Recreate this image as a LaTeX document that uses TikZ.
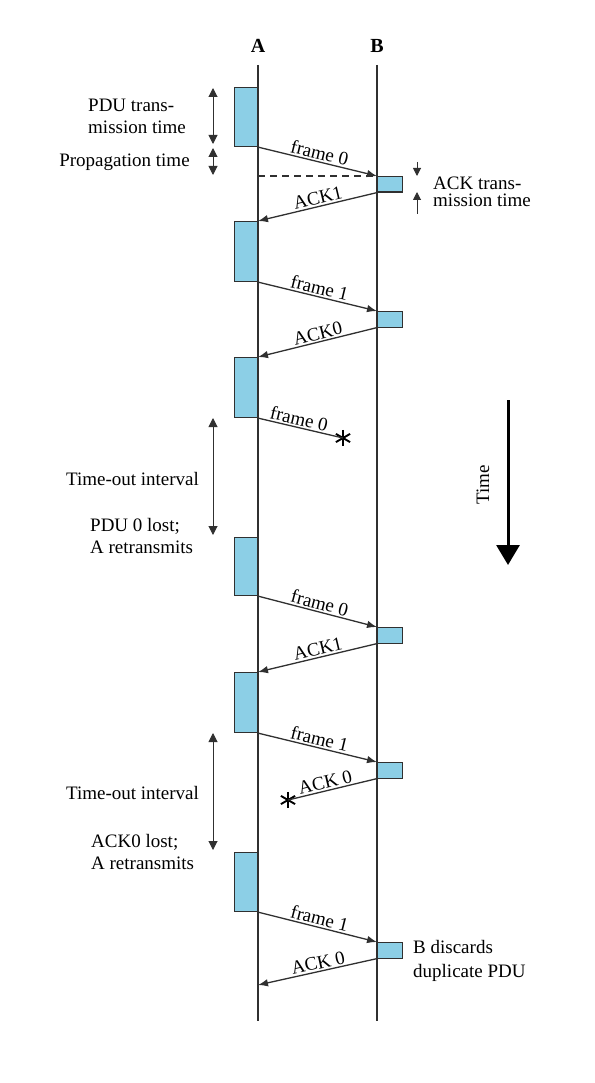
\documentclass[tikz,border=0pt]{standalone}
\usepackage{fontspec}
\setmainfont{Liberation Serif}
\usetikzlibrary{arrows.meta}
\definecolor{boxblue}{HTML}{8CCFE6}
\definecolor{linegray}{HTML}{303030}
\begin{document}
\begin{tikzpicture}[x=1pt,y=-1pt,
  font=\fontsize{19}{22}\selectfont,
  lifeline/.style={draw=linegray, line width=1.4pt},
  abox/.style={draw=linegray, fill=boxblue, line width=1.1pt, minimum width=23pt, inner sep=0pt, anchor=north east},
  bbox/.style={draw=linegray, fill=boxblue, line width=1.1pt, minimum width=25pt, minimum height=15.5pt, inner sep=0pt, anchor=north west},
  msg/.style={draw=linegray, line width=1.3pt, -{Latex[length=10pt,width=7.5pt]}},
  lostmsg/.style={draw=linegray, line width=1.3pt},
  msglabel/.style={sloped, above, inner sep=1.5pt},
  span/.style={draw=linegray, line width=1pt, {Triangle[length=9pt,width=9pt]}-{Triangle[length=9pt,width=9pt]}},
  halfspan/.style={draw=linegray, line width=1pt, -{Triangle[length=8pt,width=8pt]}},
  lostmark/.style={shape=circle, inner sep=0pt, minimum size=16pt},
  note/.style={inner sep=0pt, align=left}
]
\useasboundingbox (0,0) rectangle (594,1083);

% lifelines
\node[font=\fontsize{20}{22}\selectfont\bfseries] (A) at (258,46) {A};
\node[font=\fontsize{20}{22}\selectfont\bfseries] (B) at (377,46) {B};
\coordinate (Atop) at (258,65);
\coordinate (Abot) at (258,1021);
\coordinate (Btop) at (377,65);
\coordinate (Bbot) at (377,1021);
\draw[lifeline] (Atop) -- (Abot);
\draw[lifeline] (Btop) -- (Bbot);

% boxes at A
\node[abox, minimum height=59pt] (a1) at (258,87) {};
\node[abox, minimum height=60pt] (a2) at (258,221) {};
\node[abox, minimum height=60pt] (a3) at (258,357) {};
\node[abox, minimum height=58pt] (a4) at (258,537) {};
\node[abox, minimum height=60pt] (a5) at (258,672) {};
\node[abox, minimum height=59pt] (a6) at (258,852) {};

% boxes at B
\node[bbox] (b1) at (377,176) {};
\node[bbox] (b2) at (377,311) {};
\node[bbox] (b3) at (377,627) {};
\node[bbox] (b4) at (377,762) {};
\node[bbox] (b5) at (377,942) {};

% loss marks
\node[lostmark] (x1) at (343,438) {};
\node[lostmark] (x2) at (288,800) {};
\foreach \m in {x1,x2}{
  \foreach \ang in {90,30,-30}{
    \draw[line width=1.9pt, black] (\m.\ang) -- (\m.\ang+180);
  }
}

% dashed reference line
\draw[draw=linegray, line width=1.1pt, dash pattern=on 7pt off 5pt] (Atop |- b1.north west) -- (b1.north west);

% messages
\draw[msg] (a1.south east) -- node[msglabel]{frame 0} (b1.north west);
\draw[msg] (b1.south west) -- node[msglabel, pos=0.48]{ACK1} (a2.north east);
\draw[msg] (a2.south east) -- node[msglabel]{frame 1} (b2.north west);
\draw[msg] (b2.south west) -- node[msglabel, pos=0.48]{ACK0} (a3.north east);
\draw[lostmsg] (a3.south east) -- node[msglabel, pos=0.46]{frame 0} (x1.center);
\draw[msg] (a4.south east) -- node[msglabel]{frame 0} (b3.north west);
\draw[msg] (b3.south west) -- node[msglabel, pos=0.48]{ACK1} (a5.north east);
\draw[msg] (a5.south east) -- node[msglabel]{frame 1} (b4.north west);
\draw[lostmsg] (b4.south west) -- node[msglabel, pos=0.56]{ACK 0} (x2.center);
\draw[msg] (a6.south east) -- node[msglabel]{frame 1} (b5.north west);
\draw[msg] (b5.south west) -- node[msglabel, pos=0.48]{ACK 0} (a6.south east |- 0,985);

% left annotations (top)
\coordinate (p1) at (213,88);
\coordinate (p2) at (213,144);
\coordinate (p3) at (213,148);
\coordinate (p4) at (213,175);
\draw[span] (p1) -- (p2);
\draw[span] (p3) -- (p4);
\node[note, anchor=west] (pdut) at (88,116.5) {PDU trans-\\mission time};
\node[note] (propt) at (124.5,162) {Propagation time};

% ACK transmission time
\coordinate (q1) at (417,162);
\coordinate (q2) at (417,176);
\coordinate (q3) at (417,214);
\coordinate (q4) at (417,192);
\draw[halfspan] (q1) -- (q2);
\draw[halfspan] (q3) -- (q4);
\node[note, anchor=west, font=\fontsize{19}{17}\selectfont] (ackt) at (433,191.5) {ACK trans-\\mission time};

% time-out 1
\coordinate (t1) at (213,418);
\coordinate (t2) at (213,535);
\draw[span] (t1) -- (t2);
\node[note] (to1) at (132.5,479) {Time-out interval};
\node[note, anchor=west] (lost1) at (90,536) {PDU 0 lost;\\A retransmits};

% time-out 2
\coordinate (t3) at (213,733);
\coordinate (t4) at (213,850);
\draw[span] (t3) -- (t4);
\node[note] (to2) at (132.5,793) {Time-out interval};
\node[note, anchor=west] (lost2) at (91,851.5) {ACK0 lost;\\A retransmits};

% B discards
\node[note, anchor=west, font=\fontsize{19}{24}\selectfont] (disc) at (413,961) {B discards\\duplicate PDU};

% Time arrow
\coordinate (ts) at (508,400);
\coordinate (te) at (508,565);
\draw[black, line width=3pt, -{Triangle[width=23pt,length=20pt]}] (ts) -- (te);
\node[rotate=90] (timelbl) at (483,485) {Time};
\end{tikzpicture}
\end{document}
